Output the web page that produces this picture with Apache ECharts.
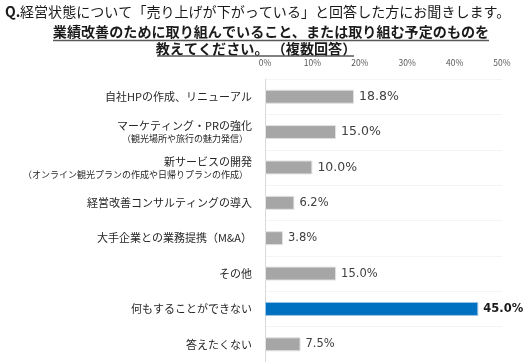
<!DOCTYPE html>
<html><head><meta charset="utf-8">
<script src="https://cdn.jsdelivr.net/npm/echarts@6/dist/echarts.min.js"></script>
<style>html,body{margin:0;padding:0;background:#fff}#c{width:526px;height:362px}</style>
</head><body><div id="c"></div>
<script>
const titleLine1 = "経営状態について「売り上げが下がっている」と回答した方にお聞きします。";
const titleLine2 = "業績改善のために取り組んでいること、または取り組む予定のものを";
const titleLine3 = "教えてください。 （複数回答）";
const categories = ["自社HPの作成、リニューアル","マーケティング・PRの強化","新サービスの開発","経営改善コンサルティングの導入","大手企業との業務提携（M&A）","その他","何もすることができない","答えたくない"];
const subLabels = ["","（観光場所や旅行の魅力発信）","（オンライン観光プランの作成や日帰りプランの作成）","","","","",""];
const values = [18.8, 15.0, 10.0, 6.2, 3.8, 15.0, 45.0, 7.5];
const xTicks = [0, 10, 20, 30, 40, 50];
const highlightIndex = 6;

const FONT = '"Noto Sans CJK JP", "Noto Sans", sans-serif';
const chart = echarts.init(document.getElementById('c'), null, {renderer:'canvas'});

const barData = values.map((v, i) => {
  const hi = i === highlightIndex;
  return {
    value: v,
    itemStyle: hi ? {color:'#0070c0', borderColor:'#9dc3e6', borderWidth:1}
                  : {color:'#a6a6a6', borderColor:'#e3e3e3', borderWidth:1},
    label: {
      fontSize: i < 3 ? 12.5 : 11.5,
      fontWeight: hi ? 'bold' : 'normal',
      color: hi ? '#1a1a1a' : '#404040'
    }
  };
});

chart.setOption({
  animation:false,
  backgroundColor:'#fff',
  graphic:[
    {type:'text', x:5, y:12, style:{text:'Q.', font:'bold 14px '+FONT, fill:'#1a1a1a', verticalAlign:'middle'}},
    {type:'text', x:20, y:12, style:{text:titleLine1, font:'14.05px '+FONT, fill:'#1a1a1a', verticalAlign:'middle'}},
    {type:'text', x:271, y:32, style:{text:titleLine2, font:'bold 14.1px '+FONT, fill:'#1a1a1a', align:'center', verticalAlign:'middle'}},
    {type:'line', shape:{x1:53, y1:40.5, x2:489, y2:40.5}, style:{stroke:'#595959', lineWidth:1.5}},
    {type:'text', x:256, y:48.5, style:{text:titleLine3, font:'bold 14.1px '+FONT, fill:'#1a1a1a', align:'center', verticalAlign:'middle'}},
    {type:'line', shape:{x1:157, y1:56, x2:354, y2:56}, style:{stroke:'#595959', lineWidth:1.5}}
  ],
  grid:{left:265, top:79, width:237, height:286, containLabel:false},
  xAxis:{
    type:'value', position:'top', min:0, max:50, interval:10,
    axisLabel:{formatter:'{value}%', fontSize:8.5, color:'#595959', fontFamily:FONT, margin:12},
    axisLine:{show:false}, axisTick:{show:false}, splitLine:{show:false}
  },
  yAxis:{
    type:'category', inverse:true, data:categories,
    axisLine:{show:true, lineStyle:{color:'#d9d9d9', width:1}},
    axisTick:{show:false},
    splitLine:{show:true, lineStyle:{color:'#f4f4f4'}},
    axisLabel:{
      margin:13, fontFamily:FONT,
      formatter:(v) => {
        const i = categories.indexOf(v);
        return subLabels[i] ? '{m|' + v + '}\n{s|' + subLabels[i] + '}' : '{m|' + v + '}';
      },
      rich:{
        m:{fontSize:11, color:'#262626', fontFamily:FONT, align:'right', lineHeight:14},
        s:{fontSize:9, color:'#262626', fontFamily:FONT, align:'right', lineHeight:12, padding:[0,4,0,0]}
      }
    }
  },
  series:[{
    type:'bar', data:barData, barWidth:14,
    label:{show:true, position:'right', distance:5, fontFamily:'"DejaVu Sans", sans-serif', formatter:p => p.value.toFixed(1) + '%'}
  }]
});
</script></body></html>
